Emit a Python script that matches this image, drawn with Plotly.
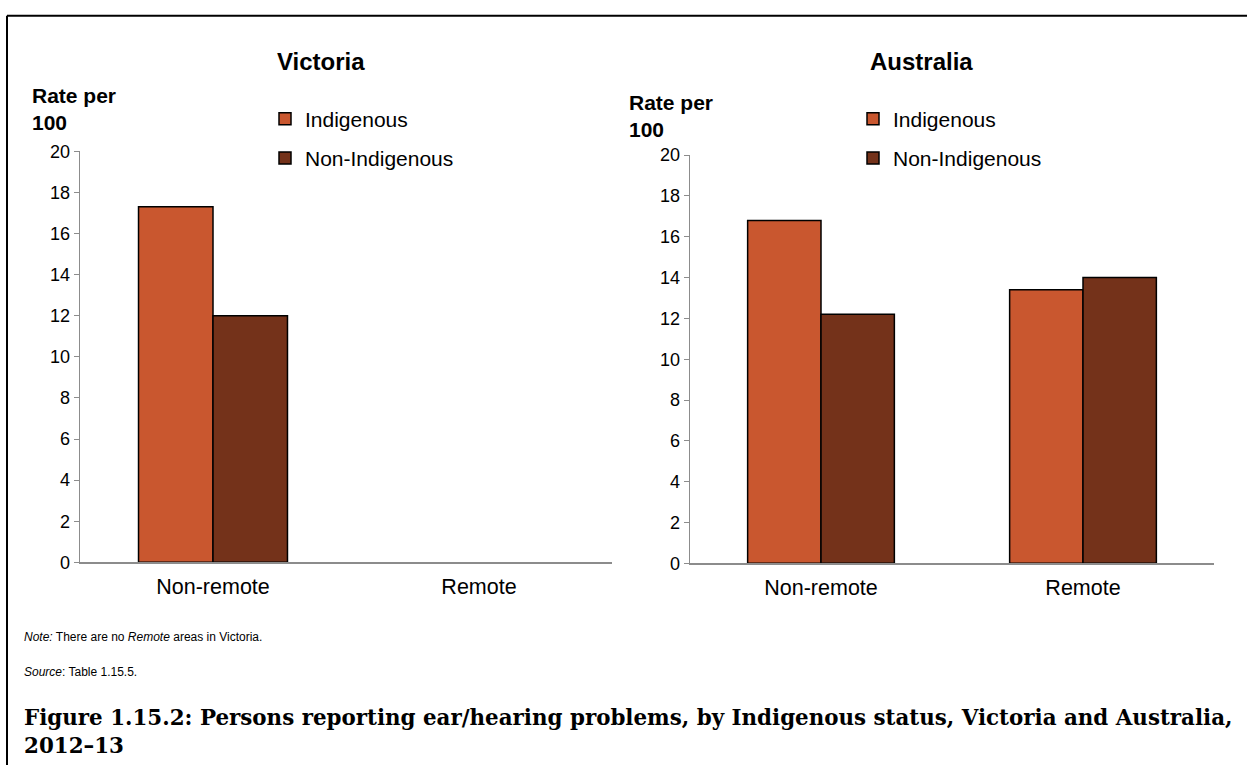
import plotly.graph_objects as go

categories = ["Non-remote", "Remote"]
vic_indigenous = [17.3, None]
vic_non_indigenous = [12.0, None]
aus_indigenous = [16.8, 13.4]
aus_non_indigenous = [12.2, 14.0]
y_ticks = [0, 2, 4, 6, 8, 10, 12, 14, 16, 18, 20]

C_IND = "#C9572F"
C_NON = "#74321A"
W, H = 1247, 775
FONT = "Liberation Sans, Arial, sans-serif"
SERIF = "DejaVu Serif, Liberation Serif, serif"


def px(x):
    return x / W


def py(y):
    return 1 - y / H


fig = go.Figure()
line = dict(color="#000000", width=1.5)
fig.add_trace(go.Bar(x=categories, y=vic_indigenous, name="Indigenous", marker=dict(color=C_IND, line=line),
                     xaxis="x", yaxis="y", legend="legend", legendgroup="a"))
fig.add_trace(go.Bar(x=categories, y=vic_non_indigenous, name="Non-Indigenous", marker=dict(color=C_NON, line=line),
                     xaxis="x", yaxis="y", legend="legend", legendgroup="b"))
fig.add_trace(go.Bar(x=categories, y=aus_indigenous, name="Indigenous", marker=dict(color=C_IND, line=line),
                     xaxis="x2", yaxis="y2", legend="legend2", legendgroup="c"))
fig.add_trace(go.Bar(x=categories, y=aus_non_indigenous, name="Non-Indigenous", marker=dict(color=C_NON, line=line),
                     xaxis="x2", yaxis="y2", legend="legend2", legendgroup="d"))

yax = dict(range=[0, 20], tickvals=y_ticks, showgrid=False, zeroline=False, showline=True,
           linecolor="#8c8c8c", linewidth=1.3, ticks="outside", ticklen=5, tickcolor="#8c8c8c",
           ticklabelstandoff=0, tickfont=dict(family=FONT, size=18, color="#000"), fixedrange=True)
xax = dict(showgrid=False, zeroline=False, showline=True, linecolor="#8c8c8c", linewidth=1.5,
           ticks="", ticklabelstandoff=4, tickfont=dict(family=FONT, size=21.5, color="#000"),
           categoryorder="array", categoryarray=categories, fixedrange=True)

leg = dict(xanchor="left", yanchor="top", bgcolor="rgba(0,0,0,0)",
           font=dict(family=FONT, size=21, color="#000"), tracegroupgap=9, traceorder="grouped",
           itemwidth=30)

fig.update_layout(
    width=W, height=H, margin=dict(l=0, r=0, t=0, b=0),
    paper_bgcolor="white", plot_bgcolor="white",
    barmode="group", bargap=0.44, bargroupgap=0,
    xaxis=dict(xax, domain=[px(80), px(612)], anchor="y"),
    yaxis=dict(yax, domain=[py(567), py(145)], anchor="x"),
    xaxis2=dict(xax, domain=[px(690), px(1214)], anchor="y2"),
    yaxis2=dict(yax, domain=[py(568), py(149)], anchor="x2"),
    legend=dict(leg, x=px(265), y=py(91)),
    legend2=dict(leg, x=px(853), y=py(91)),
    font=dict(family=FONT, color="#000"),
)

ann = []
ann.append(dict(text="<b>Victoria</b>", x=px(321), y=py(53), xref="paper", yref="paper",
                showarrow=False, font=dict(family=FONT, size=24), xanchor="center", yanchor="middle"))
ann.append(dict(text="<b>Australia</b>", x=px(921), y=py(53), xref="paper", yref="paper",
                showarrow=False, font=dict(family=FONT, size=24), xanchor="center", yanchor="middle"))
ann.append(dict(text="<b>Rate per<br>100</b>", x=px(30), y=py(102), xref="paper", yref="paper",
                showarrow=False, font=dict(family=FONT, size=21), xanchor="left", yanchor="middle", align="left"))
ann.append(dict(text="<b>Rate per<br>100</b>", x=px(627), y=py(109), xref="paper", yref="paper",
                showarrow=False, font=dict(family=FONT, size=21), xanchor="left", yanchor="middle", align="left"))
ann.append(dict(text="<i>Note:</i> There are no <i>Remote</i> areas in Victoria.", x=px(22), y=py(644),
                xref="paper", yref="paper", showarrow=False, font=dict(family=FONT, size=12),
                xanchor="left", yanchor="middle"))
ann.append(dict(text="<i>Source</i>: Table 1.15.5.", x=px(22), y=py(680),
                xref="paper", yref="paper", showarrow=False, font=dict(family=FONT, size=12),
                xanchor="left", yanchor="middle"))
ann.append(dict(text="<b>Figure 1.15.2: Persons reporting ear/hearing problems, by Indigenous status, Victoria and Australia,<br>2012–13</b>",
                x=px(22), y=py(741), xref="paper", yref="paper", showarrow=False,
                font=dict(family=SERIF, size=21.4), xanchor="left",
                yanchor="middle", align="left"))
fig.update_layout(annotations=ann)

fig.add_shape(type="line", xref="paper", yref="paper", x0=px(7), x1=1, y0=py(6), y1=py(6),
              line=dict(color="#000", width=2))
fig.add_shape(type="line", xref="paper", yref="paper", x0=px(7), x1=px(7), y0=py(6), y1=0,
              line=dict(color="#000", width=2))

fig.write_html("out.html", config={"displayModeBar": False, "staticPlot": True},
               post_script="document.body.style.margin='0';document.body.style.overflow='hidden';")
